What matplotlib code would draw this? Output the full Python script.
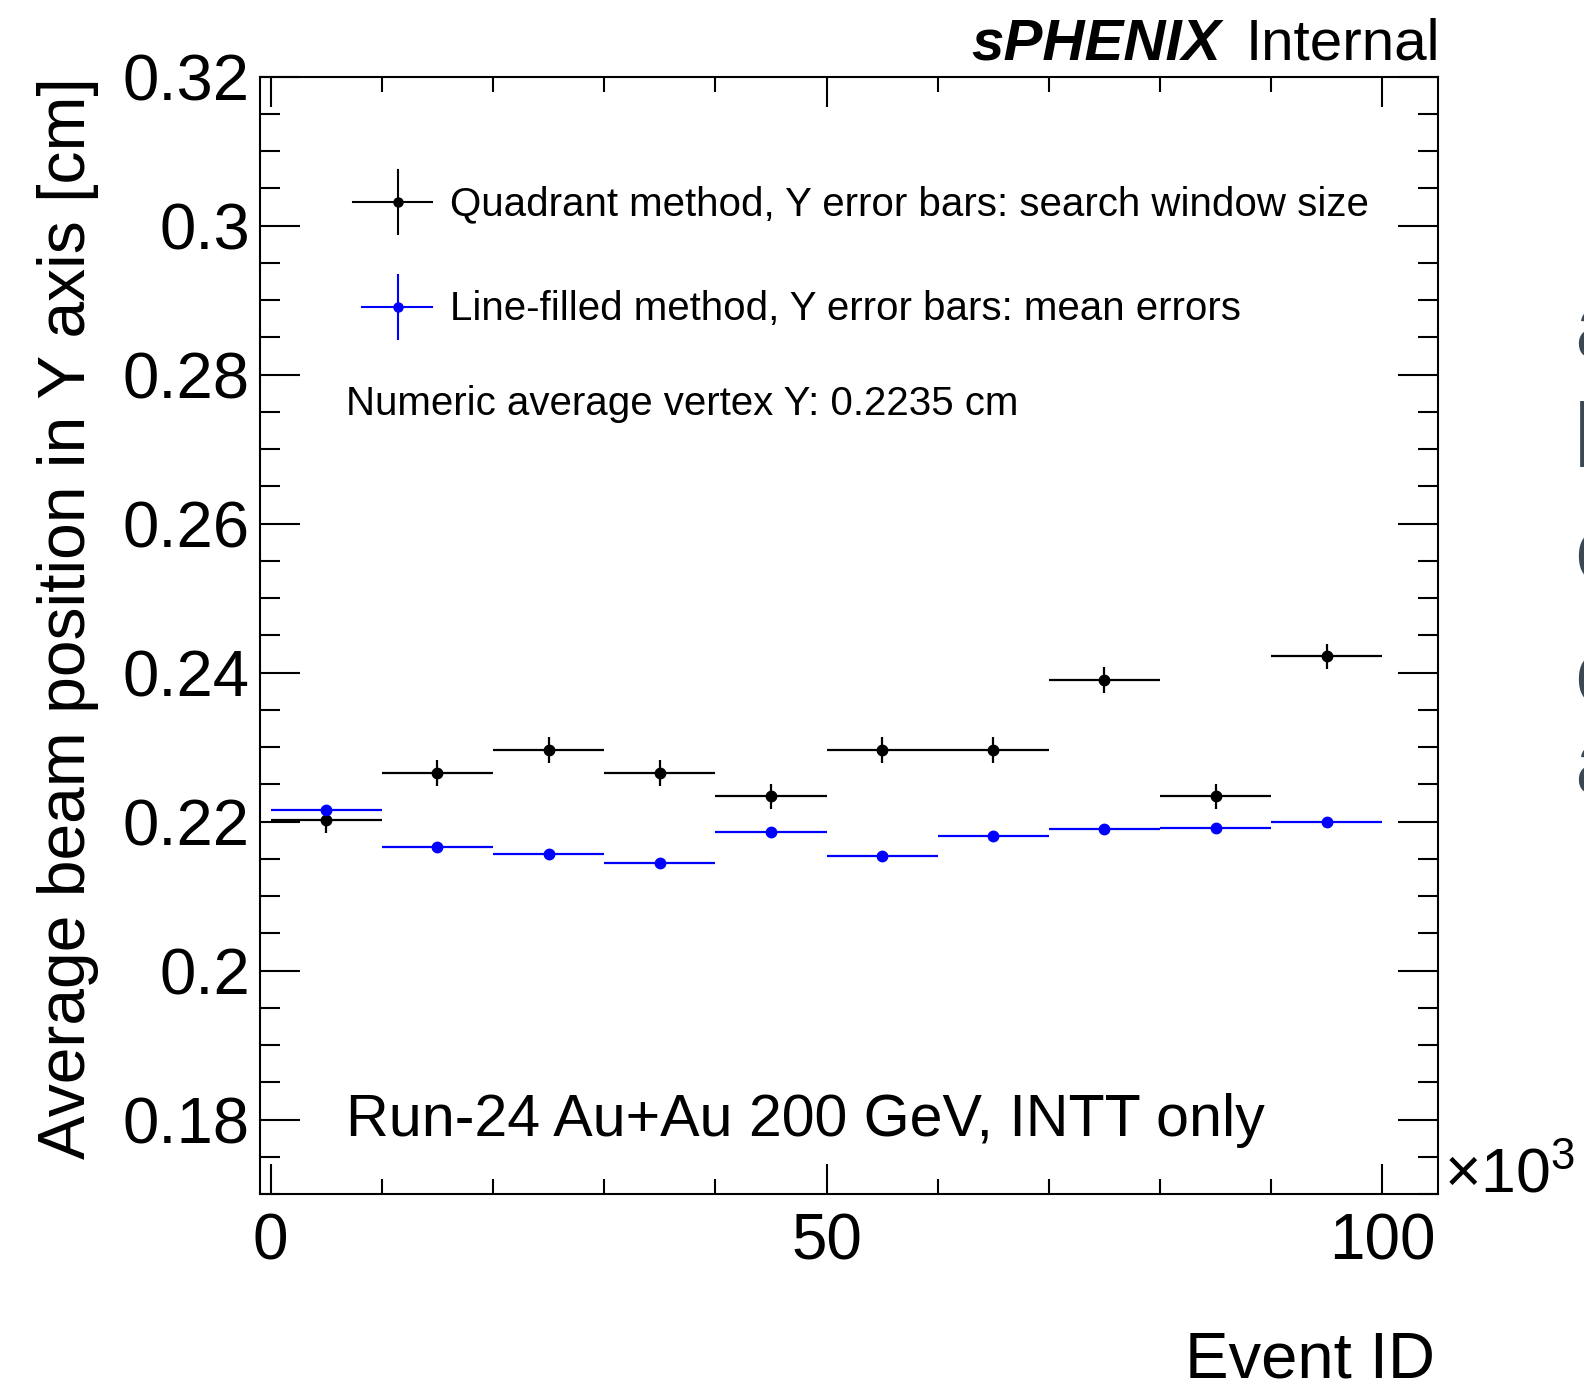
import numpy as np
import matplotlib
matplotlib.use("Agg")
import matplotlib.pyplot as plt
from matplotlib.lines import Line2D
from matplotlib.ticker import MultipleLocator

plt.rcParams["font.family"] = ["Liberation Sans", "DejaVu Sans"]
plt.rcParams["mathtext.fontset"] = "custom"
plt.rcParams["mathtext.rm"] = "Liberation Sans"

# event ID bins (x10^3)
bin_centers = [5, 15, 25, 35, 45, 55, 65, 75, 85, 95]
bin_half = [5] * 10

# quadrant method
quad_y = [0.2202, 0.2265, 0.2296, 0.2265, 0.2234, 0.2296, 0.2296, 0.2390, 0.2234, 0.2422]
quad_err = [0.0017] * 10

# line-filled method
line_y = [0.2216, 0.2166, 0.2156, 0.2145, 0.2186, 0.2154, 0.2180, 0.2190, 0.2191, 0.2199]
line_err = [0.0002] * 10

W, H = 1584, 1384
fig = plt.figure(figsize=(W / 100, H / 100), dpi=100)
ax = fig.add_axes([259.5 / W, 1 - 1194 / H, (1438 - 259.5) / W, (1194 - 76.7) / H])

def fx(x):
    return x / W

def fy(y):
    return 1 - y / H

ax.errorbar(bin_centers, quad_y, xerr=bin_half, yerr=quad_err, fmt="o", color="black",
            ms=7.5, elinewidth=1.6, capsize=0)
ax.errorbar(bin_centers, line_y, xerr=bin_half, yerr=line_err, fmt="o", color="#0000ff",
            ms=7.5, elinewidth=1.6, capsize=0)

ax.set_xlim(-1, 105)
ax.set_ylim(0.17, 0.32)
ax.xaxis.set_major_locator(MultipleLocator(50))
ax.xaxis.set_minor_locator(MultipleLocator(10))
ax.yaxis.set_major_locator(MultipleLocator(0.02))
ax.yaxis.set_minor_locator(MultipleLocator(0.005))
ax.set_yticks([0.18, 0.2, 0.22, 0.24, 0.26, 0.28, 0.3, 0.32])
ax.set_yticklabels(["0.18", "0.2", "0.22", "0.24", "0.26", "0.28", "0.3", "0.32"])
ax.set_xticks([0, 50, 100])
ax.set_xticklabels(["0", "50", "100"])

for s in ax.spines.values():
    s.set_linewidth(1.5)
ax.tick_params(axis="both", which="both", direction="in", top=True, right=True, width=1.5)
ax.tick_params(axis="y", which="major", length=28.8, labelsize=47, pad=7)
ax.tick_params(axis="y", which="minor", length=14.4)
ax.tick_params(axis="x", which="major", length=21.6, labelsize=46, pad=13)
ax.tick_params(axis="x", which="minor", length=10.8)

# axis titles
fig.text(fx(85), fy(76.7), "Average beam position in Y axis [cm]", fontsize=47.5,
         rotation=90, rotation_mode="anchor", ha="right", va="baseline")
fig.text(fx(1435), fy(1377), "Event ID", fontsize=47, ha="right", va="baseline")
fig.text(fx(1444), fy(1192), "×10$^{3}$", fontsize=45, ha="left", va="baseline")

# header
fig.text(fx(971), fy(60), "sPHENIX", fontsize=42, fontweight="bold", fontstyle="italic",
         ha="left", va="baseline")
fig.text(fx(1246), fy(60), "Internal", fontsize=42, ha="left", va="baseline")

# legend
for yc, x0, col in [(201.7, 353, "black"), (306.7, 361.7, "#0000ff")]:
    fig.add_artist(Line2D([fx(x0), fx(432)], [fy(yc), fy(yc)], color=col, lw=1.5))
    fig.add_artist(Line2D([fx(397.7), fx(397.7)], [fy(yc - 32), fy(yc + 32)], color=col, lw=1.5))
    fig.add_artist(Line2D([fx(397.7)], [fy(yc)], marker="o", ms=6.5, color=col))
fig.text(fx(450), fy(215), "Quadrant method, Y error bars: search window size", fontsize=29,
         va="baseline")
fig.text(fx(450), fy(320), "Line-filled method, Y error bars: mean errors", fontsize=29,
         va="baseline")
fig.text(fx(345.5), fy(415), "Numeric average vertex Y: 0.2235 cm", fontsize=29, va="baseline")
fig.text(fx(345.5), fy(1136.5), "Run-24 Au+Au 200 GeV, INTT only", fontsize=42.6, va="baseline")

# cut-off letters from neighbouring slide at right edge
for yb, ch in [(357, "a"), (467, "l"), (580, "c"), (703, "c"), (793, "a")]:
    fig.text(fx(1574), fy(yb), ch, fontsize=65, color="#3a4854", ha="left", va="baseline")

fig.savefig("out.png", dpi=100)
